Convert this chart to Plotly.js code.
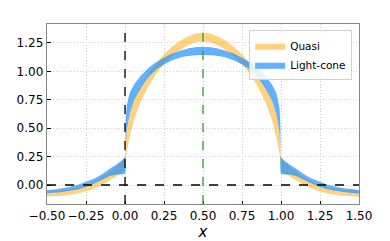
<!DOCTYPE html>
<html>
<head>
<meta charset="utf-8">
<script src="https://cdn.plot.ly/plotly-3.0.1.min.js"></script>
<style>html,body{margin:0;padding:0;background:#fff}#chart{width:390px;height:241px}</style>
</head>
<body>
<div id="chart"></div>
<script>
// x positions of the bands
const xs = [-0.5,-0.4,-0.3,-0.25,-0.2,-0.15,-0.1,-0.05,0,0.003,0.01,0.03,0.06,0.1,0.15,0.2,0.25,0.3,0.35,0.4,0.45,0.5,
            0.55,0.6,0.65,0.7,0.75,0.8,0.85,0.9,0.94,0.97,0.99,0.997,1.0,1.05,1.1,1.15,1.2,1.25,1.3,1.4,1.5];
// Quasi band
const quasiHi = [-0.055,-0.045,-0.025,-0.005,0.025,0.065,0.115,0.17,0.25,0.38,0.48,0.62,0.75,0.87,0.98,1.07,1.15,1.215,1.265,1.305,1.332,1.342,
                 1.332,1.305,1.265,1.215,1.15,1.07,0.98,0.87,0.75,0.62,0.48,0.38,0.25,0.17,0.115,0.065,0.025,-0.005,-0.025,-0.045,-0.055];
const quasiLo = [-0.10,-0.095,-0.075,-0.055,-0.03,0.0,0.04,0.08,0.13,0.22,0.28,0.42,0.58,0.73,0.87,0.98,1.06,1.13,1.185,1.225,1.255,1.265,
                 1.255,1.225,1.185,1.13,1.06,0.98,0.87,0.73,0.58,0.42,0.28,0.22,0.13,0.08,0.04,0.0,-0.03,-0.055,-0.075,-0.095,-0.10];
// Light-cone band
const lcHi = [-0.045,-0.028,0.003,0.028,0.055,0.092,0.142,0.185,0.245,0.50,0.68,0.81,0.89,0.96,1.03,1.08,1.12,1.155,1.18,1.20,1.212,1.217,
              1.212,1.20,1.18,1.155,1.12,1.08,1.03,0.96,0.89,0.81,0.68,0.50,0.245,0.185,0.142,0.092,0.055,0.028,0.003,-0.028,-0.045];
const lcLo = [-0.073,-0.062,-0.038,-0.015,0.012,0.045,0.078,0.092,0.10,0.30,0.47,0.62,0.75,0.85,0.95,1.015,1.06,1.095,1.12,1.135,1.143,1.145,
              1.143,1.135,1.12,1.095,1.06,1.015,0.95,0.85,0.75,0.62,0.47,0.30,0.10,0.092,0.078,0.045,0.012,-0.015,-0.038,-0.062,-0.073];
const xTicks = [-0.5,-0.25,0,0.25,0.5,0.75,1.0,1.25,1.5];
const yTicks = [0,0.25,0.5,0.75,1.0,1.25];

function band(lo, hi, name, color) {
  return {
    x: xs.concat(xs.slice().reverse()),
    y: hi.concat(lo.slice().reverse()),
    fill: 'toself', fillcolor: color, mode: 'lines',
    line: {width: 0, color: color, shape: 'spline', smoothing: 0.4}, name: name, hoverinfo: 'skip'
  };
}
const data = [
  band(quasiLo, quasiHi, 'Quasi', 'rgba(255,165,0,0.5)'),
  band(lcLo, lcHi, 'Light-cone', 'rgba(30,144,255,0.7)')
];
const axisCommon = {
  showline: true, linecolor: '#888', linewidth: 1.3, mirror: true,
  ticks: 'inside', ticklen: 3.5, tickcolor: '#000', tickwidth: 1,
  showgrid: true, gridcolor: '#cfcfcf', griddash: '1px,2px', gridwidth: 1,
  zeroline: false, tickfont: {family: 'DejaVu Sans', size: 12, color: '#000'},
  tickformat: '.2f'
};
const layout = {
  width: 390, height: 241,
  margin: {l: 47, r: 31, t: 24, b: 37},
  paper_bgcolor: '#fff', plot_bgcolor: '#fff',
  font: {family: 'DejaVu Sans', color: '#000'},
  showlegend: true,
  legend: {x: 0.978, xanchor: 'right', y: 0.965, yanchor: 'top',
           bgcolor: 'rgba(255,255,255,0.85)', bordercolor: '#d0d0d0', borderwidth: 1,
           font: {family: 'DejaVu Sans', size: 10.5, color: '#000'}, itemwidth: 30,
           tracegroupgap: 0},
  xaxis: Object.assign({}, axisCommon, {range: [-0.5, 1.5], tickvals: xTicks,
           title: {text: 'x', font: {family: 'DejaVu Sans', size: 15, style: 'italic'}, standoff: 1}}),
  yaxis: Object.assign({}, axisCommon, {range: [-0.167, 1.417], tickvals: yTicks}),
  shapes: [
    {type: 'line', xref: 'x', yref: 'paper', x0: 0, x1: 0, y0: 0, y1: 1, line: {color: '#000', width: 1.3, dash: 'dash'}},
    {type: 'line', xref: 'x', yref: 'paper', x0: 0.5, x1: 0.5, y0: 0, y1: 1, line: {color: '#2ca02c', width: 1.3, dash: 'dash'}},
    {type: 'line', xref: 'paper', yref: 'y', x0: 0, x1: 1, y0: 0, y1: 0, line: {color: '#000', width: 1.3, dash: 'dash'}}
  ]
};
Plotly.newPlot('chart', data, layout, {displayModeBar: false, staticPlot: true});
</script>
</body>
</html>
